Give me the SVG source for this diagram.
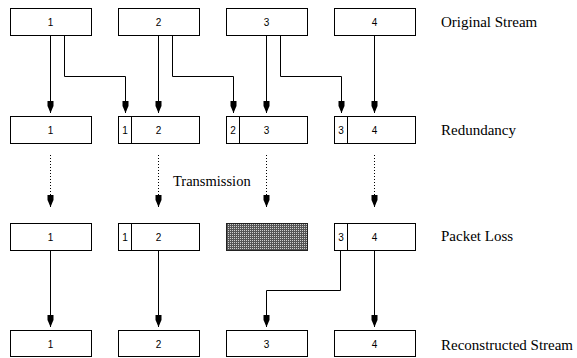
<svg xmlns="http://www.w3.org/2000/svg" width="577" height="358" viewBox="0 0 577 358">
<style>
.box{fill:#fff;stroke:#000;stroke-width:1}
.num{font-size:10px;fill:#000;text-anchor:middle}
.ln{fill:none;stroke:#000;stroke-width:1}
.dot{fill:none;stroke:#000;stroke-width:1;stroke-dasharray:1 2}
</style>
<defs>
<marker id="ah" markerUnits="userSpaceOnUse" markerWidth="14" markerHeight="10" viewBox="-13 -5 14 10" refX="0" refY="0" orient="auto">
<path d="M-12,-3 L-7,-3 L0,0 L-7,3 L-12,3 Z" fill="#000"/>
</marker>
<pattern id="hatch" width="2" height="2" patternUnits="userSpaceOnUse">
<rect width="2" height="2" fill="#555"/>
<rect width="1" height="1" fill="#d0d0d0"/>
</pattern>
</defs>
<rect width="577" height="358" fill="#fff"/>

<g id="connectors">
<path class="ln" d="M50.5,35 V113" marker-end="url(#ah)"/>
<path class="ln" d="M64.5,35 V76.5 H125.5 V113" marker-end="url(#ah)"/>
<path class="ln" d="M158.5,35 V113" marker-end="url(#ah)"/>
<path class="ln" d="M172.5,35 V76.5 H233.5 V113" marker-end="url(#ah)"/>
<path class="ln" d="M266.5,35 V113" marker-end="url(#ah)"/>
<path class="ln" d="M280.5,35 V76.5 H341.5 V113" marker-end="url(#ah)"/>
<path class="ln" d="M374.5,35 V113" marker-end="url(#ah)"/>
<path class="dot" d="M50.5,155 V196"/>
<path class="dot" d="M158.5,155 V196"/>
<path class="dot" d="M266.5,155 V196"/>
<path class="dot" d="M374.5,155 V196"/>
<path class="ln" d="M50.5,200 V207" stroke="none" marker-end="url(#ah)"/>
<path class="ln" d="M158.5,200 V207" stroke="none" marker-end="url(#ah)"/>
<path class="ln" d="M266.5,200 V207" stroke="none" marker-end="url(#ah)"/>
<path class="ln" d="M374.5,200 V207" stroke="none" marker-end="url(#ah)"/>
<path class="ln" d="M50.5,250 V327" marker-end="url(#ah)"/>
<path class="ln" d="M158.5,250 V327" marker-end="url(#ah)"/>
<path class="ln" d="M340.5,250 V290.5 H266.5 V327" marker-end="url(#ah)"/>
<path class="ln" d="M374.5,250 V327" marker-end="url(#ah)"/>
</g>

<g font-family="'Liberation Sans', Arial, sans-serif">
<g id="o1"><rect class="box" x="10.5" y="8.5" width="81" height="27"/><text class="num" x="50.5" y="25.5">1</text></g>
<g id="o2"><rect class="box" x="118.5" y="8.5" width="81" height="27"/><text class="num" x="158.5" y="25.5">2</text></g>
<g id="o3"><rect class="box" x="226.5" y="8.5" width="81" height="27"/><text class="num" x="266.5" y="25.5">3</text></g>
<g id="o4"><rect class="box" x="334.5" y="8.5" width="81" height="27"/><text class="num" x="374.5" y="25.5">4</text></g>

<g id="r1"><rect class="box" x="10.5" y="116.5" width="81" height="27"/><text class="num" x="50.5" y="133.5">1</text></g>
<g id="r2"><rect class="box" x="118.5" y="116.5" width="81" height="27"/><line class="ln" x1="131.5" y1="116.5" x2="131.5" y2="143.5"/><text class="num" x="125" y="133.5">1</text><text class="num" x="158.5" y="133.5">2</text></g>
<g id="r3"><rect class="box" x="226.5" y="116.5" width="81" height="27"/><line class="ln" x1="239.5" y1="116.5" x2="239.5" y2="143.5"/><text class="num" x="233" y="133.5">2</text><text class="num" x="266.5" y="133.5">3</text></g>
<g id="r4"><rect class="box" x="334.5" y="116.5" width="81" height="27"/><line class="ln" x1="347.5" y1="116.5" x2="347.5" y2="143.5"/><text class="num" x="341" y="133.5">3</text><text class="num" x="374.5" y="133.5">4</text></g>

<g id="p1"><rect class="box" x="10.5" y="223.5" width="81" height="27"/><text class="num" x="50.5" y="240.5">1</text></g>
<g id="p2"><rect class="box" x="118.5" y="223.5" width="81" height="27"/><line class="ln" x1="131.5" y1="223.5" x2="131.5" y2="250.5"/><text class="num" x="125" y="240.5">1</text><text class="num" x="158.5" y="240.5">2</text></g>
<g id="p3"><rect x="226.5" y="223.5" width="81" height="27" fill="url(#hatch)" stroke="#222" stroke-width="1"/></g>
<g id="p4"><rect class="box" x="334.5" y="223.5" width="81" height="27"/><line class="ln" x1="347.5" y1="223.5" x2="347.5" y2="250.5"/><text class="num" x="341" y="240.5">3</text><text class="num" x="374.5" y="240.5">4</text></g>

<g id="s1"><rect class="box" x="10.5" y="330.5" width="81" height="26"/><text class="num" x="50.5" y="347.5">1</text></g>
<g id="s2"><rect class="box" x="118.5" y="330.5" width="81" height="26"/><text class="num" x="158.5" y="347.5">2</text></g>
<g id="s3"><rect class="box" x="226.5" y="330.5" width="81" height="26"/><text class="num" x="266.5" y="347.5">3</text></g>
<g id="s4"><rect class="box" x="334.5" y="330.5" width="81" height="26"/><text class="num" x="374.5" y="347.5">4</text></g>
</g>

<g id="labels" font-family="'Liberation Serif', 'Times New Roman', 'DejaVu Serif', serif" font-size="15" fill="#000">
<text x="441" y="27">Original Stream</text>
<text x="441" y="135">Redundancy</text>
<text x="173" y="186" font-size="14.5">Transmission</text>
<text x="441" y="241">Packet Loss</text>
<text x="441" y="350">Reconstructed Stream</text>
</g>
</svg>
